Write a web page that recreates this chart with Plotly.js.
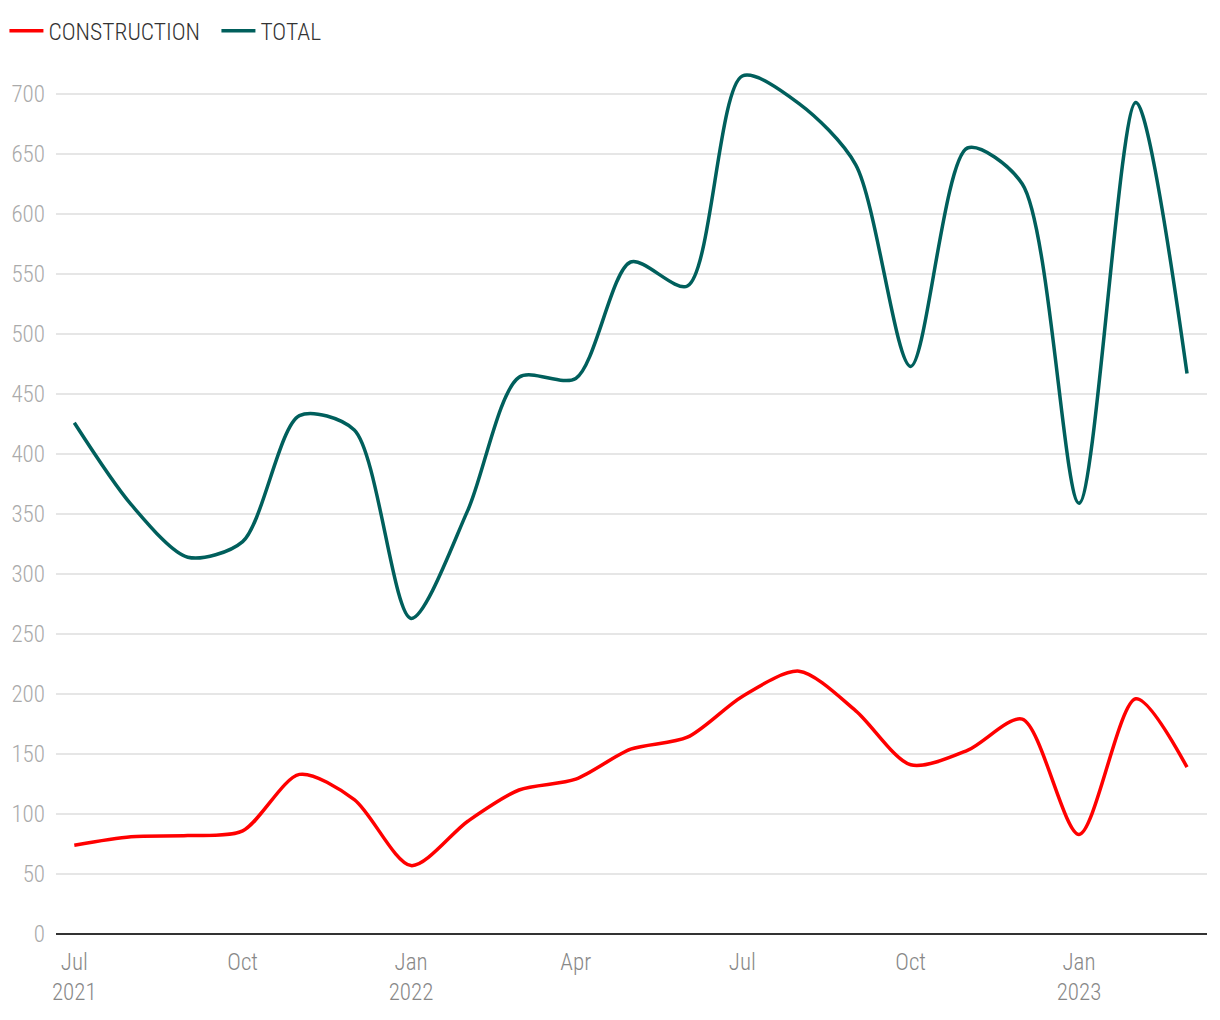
<!DOCTYPE html>
<html>
<head>
<meta charset="utf-8">
<script src="https://cdn.plot.ly/plotly-3.0.1.min.js"></script>
<style>
html,body{margin:0;padding:0;background:#fff;}
#chart{width:1220px;height:1020px;}
</style>
</head>
<body>
<div id="chart"></div>
<script>
const months = ['2021-07-01','2021-08-01','2021-09-01','2021-10-01','2021-11-01','2021-12-01',
  '2022-01-01','2022-02-01','2022-03-01','2022-04-01','2022-05-01','2022-06-01',
  '2022-07-01','2022-08-01','2022-09-01','2022-10-01','2022-11-01','2022-12-01',
  '2023-01-01','2023-02-01','2023-03-01'];
const construction = [74,81,82,86,133,112,57,94,120,129,154,164,198,219,186,141,153,179,83,196,139];
const total = [426,358,314,327,432,420,263,353,464,463,560,540,715,692,641,473,655,625,359,693,467];
const tickDates = ['2021-07-01','2021-10-01','2022-01-01','2022-04-01','2022-07-01','2022-10-01','2023-01-01'];
const tickLabels = ['Jul<br>2021','Oct','Jan<br>2022','Apr','Jul','Oct','Jan<br>2023'];
const yTicks = [0,50,100,150,200,250,300,350,400,450,500,550,600,650,700];

const FONT = '"Roboto Condensed", "DejaVu Sans Condensed", sans-serif';

const traces = [
  {x: months, y: construction, name: 'CONSTRUCTION', type: 'scatter', mode: 'lines',
   line: {color: '#ff0000', width: 3.5, shape: 'spline', smoothing: 0.8}, hoverinfo: 'skip'},
  {x: months, y: total, name: 'TOTAL', type: 'scatter', mode: 'lines',
   line: {color: '#005f5c', width: 3.5, shape: 'spline', smoothing: 0.8}, hoverinfo: 'skip'}
];

const layout = {
  width: 1220, height: 1020,
  margin: {l: 56, r: 13, t: 52, b: 86, autoexpand: false},
  paper_bgcolor: '#ffffff', plot_bgcolor: '#ffffff',
  font: {family: FONT, size: 23, color: '#333', weight: 300},
  showlegend: true,
  legend: {orientation: 'h', x: -0.0448, xanchor: 'left', y: 1.0238, yanchor: 'middle',
           font: {family: FONT, size: 23.5, color: '#333', weight: 300}, itemwidth: 34, tracegroupgap: 0,
           entrywidth: 163, entrywidthmode: 'pixels',
           bgcolor: 'rgba(0,0,0,0)'},
  xaxis: {type: 'date', range: ['2021-06-21 00:00', '2023-03-11 22:00'], automargin: false,
          tickvals: tickDates, ticktext: tickLabels, showgrid: false, zeroline: false,
          showline: false, ticks: '', ticklabelstandoff: 12,
          tickfont: {family: FONT, size: 23, color: '#888', weight: 300},
          fixedrange: true},
  yaxis: {range: [0, 735], tickvals: yTicks, showgrid: true, gridcolor: '#e6e6e6', gridwidth: 2,
          automargin: false,
          zeroline: true, zerolinecolor: '#333333', zerolinewidth: 2.5, showline: false, ticks: '',
          ticklabelstandoff: 10, tickfont: {family: FONT, size: 23, color: '#aaaaaa', weight: 300}, fixedrange: true},
  hovermode: false
};

Plotly.newPlot('chart', traces, layout, {displayModeBar: false, staticPlot: true});
</script>
</body>
</html>
